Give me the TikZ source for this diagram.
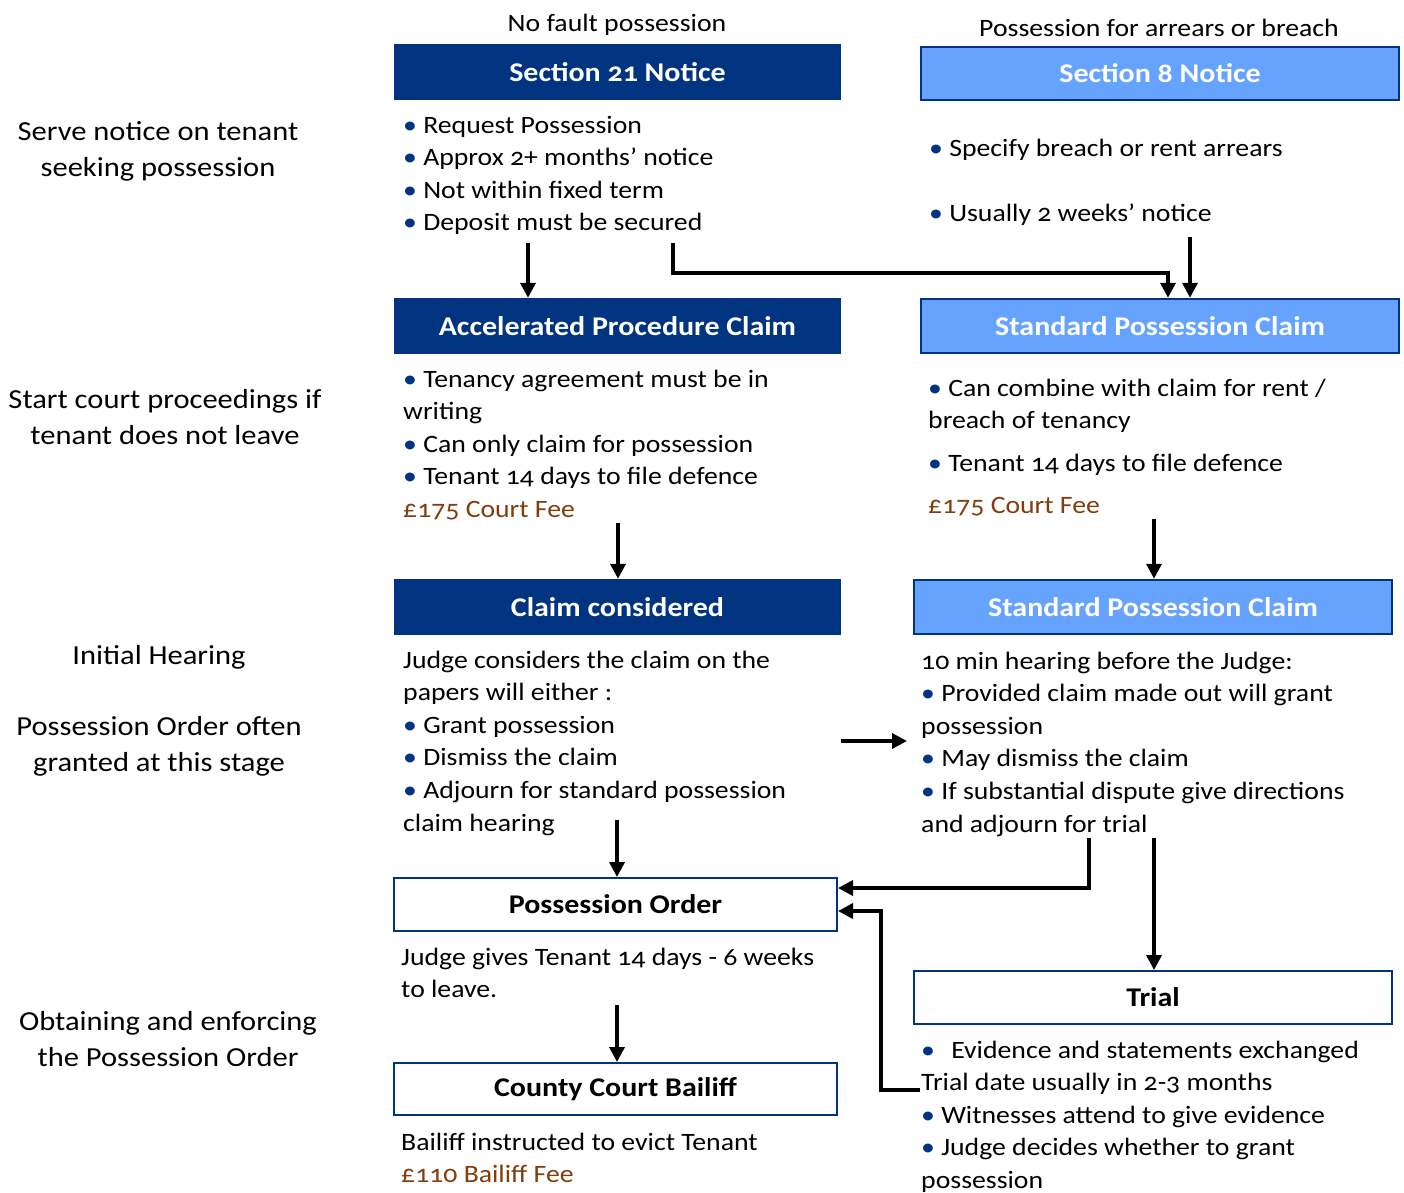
\documentclass[tikz,border=0pt]{standalone}
\usepackage{fontspec}
\setmainfont{Carlito}[Numbers=OldStyle, FakeStretch=1.11]
\usetikzlibrary{arrows.meta}
\definecolor{dblue}{RGB}{0,51,128}
\definecolor{lblue}{RGB}{102,163,255}
\definecolor{feec}{RGB}{132,60,12}
\newcommand{\bl}{\textcolor{dblue}{•}\hspace{0.25em}}
\newcommand{\fee}[1]{\textcolor{feec}{#1}}
\newcommand{\blk}[1]{\begin{tabular}[t]{@{}l@{}}#1\end{tabular}}
\newcommand{\cblk}[1]{\begin{tabular}[t]{@{}c@{}}#1\end{tabular}}
\begin{document}
\begin{tikzpicture}[x=1pt,y=-1pt,
  darkbox/.style={rectangle, fill=dblue, text=white, inner sep=0pt,
    font=\bfseries\fontsize{27}{30}\selectfont},
  lightbox/.style={rectangle, fill=lblue, draw=dblue, line width=2.5pt, text=white, inner sep=0pt,
    font=\bfseries\fontsize{27}{30}\selectfont},
  whitebox/.style={rectangle, fill=white, draw=dblue, line width=2pt, text=black, inner sep=0pt,
    font=\bfseries\fontsize{27}{30}\selectfont},
  txt/.style={anchor=base west, inner sep=0pt, font=\fontsize{25}{32.6}\selectfont},
  lbl/.style={anchor=base, inner sep=0pt, font=\fontsize{27.5}{36}\selectfont},
  hdr/.style={anchor=base, inner sep=0pt, font=\fontsize{25}{30}\selectfont},
  arr/.style={line width=3.5pt, line join=miter, -{Triangle[width=15pt,length=15pt]}}
]
\useasboundingbox[fill=white] (0,0) rectangle (1404,1192);

% left labels
\node[lbl] (l1) at (158,140) {\cblk{Serve notice on tenant\\seeking possession}};
\node[lbl] (l2) at (165,408) {\cblk{Start court proceedings if\\tenant does not leave}};
\node[lbl] (l3) at (159,664) {Initial Hearing};
\node[lbl] (l4) at (159,735) {\cblk{Possession Order often\\granted at this stage}};
\node[lbl] (l5) at (168,1030) {\cblk{Obtaining and enforcing\\the Possession Order}};

% column headers
\node[hdr] (h1) at (617,31) {No fault possession};
\node[hdr] (h2) at (1159,36) {Possession for arrears or breach};

% boxes
\node[darkbox, minimum width=447pt, minimum height=56pt] (s21) at (617.5,72) {Section 21 Notice};
\node[lightbox, minimum width=478pt, minimum height=53pt] (s8) at (1160,73.5) {Section 8 Notice};
\node[darkbox, minimum width=447pt, minimum height=56pt] (apc) at (617.5,326) {Accelerated Procedure Claim};
\node[lightbox, minimum width=478pt, minimum height=54pt] (spc1) at (1160,326) {Standard Possession Claim};
\node[darkbox, minimum width=447pt, minimum height=56pt] (cc) at (617.5,607) {Claim considered};
\node[lightbox, minimum width=478pt, minimum height=54pt] (spc2) at (1153,607) {Standard Possession Claim};
\node[whitebox, minimum width=443pt, minimum height=53pt] (po) at (615.5,904.5) {Possession Order};
\node[whitebox, minimum width=478pt, minimum height=53pt] (trial) at (1153,997.5) {Trial};
\node[whitebox, minimum width=443pt, minimum height=52pt] (ccb) at (615.5,1089) {County Court Bailiff};

% text blocks
\node[txt] (t21) at (403,133) {\blk{\bl Request Possession\\ \bl Approx 2+ months’ notice\\ \bl Not within fixed term\\ \bl Deposit must be secured}};
\node[txt] (t8) at (929,156) {\blk{\bl Specify breach or rent arrears\\[32.4pt] \bl Usually 2 weeks’ notice}};
\node[txt] (tapc) at (403,387) {\blk{\bl Tenancy agreement must be in\\ writing\\ \bl Can only claim for possession\\ \bl Tenant 14 days to file defence\\ \fee{£175 Court Fee}}};
\node[txt] (tspc1) at (928,396) {\blk{\bl Can combine with claim for rent /\\ breach of tenancy\\[10pt] \bl Tenant 14 days to file defence\\[9.5pt] \fee{£175 Court Fee}}};
\node[txt] (tcc) at (403,668) {\blk{Judge considers the claim on the\\ papers will either :\\ \bl Grant possession\\ \bl Dismiss the claim\\ \bl Adjourn for standard possession\\ claim hearing}};
\node[txt] (tspc2) at (921,669) {\blk{10 min hearing before the Judge:\\ \bl Provided claim made out will grant\\ possession\\ \bl May dismiss the claim\\ \bl If substantial dispute give directions\\ and adjourn for trial}};
\node[txt] (tpo) at (401,965) {\blk{Judge gives Tenant 14 days - 6 weeks\\ to leave.}};
\node[txt] (ttr) at (921,1058) {\blk{\bl\hspace{0.4em}Evidence and statements exchanged\\ Trial date usually in 2-3 months\\ \bl Witnesses attend to give evidence\\ \bl Judge decides whether to grant\\ possession}};
\node[txt] (tccb) at (401,1150) {\blk{Bailiff instructed to evict Tenant\\ \fee{£110 Bailiff Fee}}};

% arrow coordinates
\coordinate (a1) at (528,243);
\coordinate (a2) at (673,243);
\coordinate (b2) at (1168,273);
\coordinate (a3) at (1190,237);
\coordinate (a4) at (618,523);
\coordinate (a5) at (1154,519);
\coordinate (a6) at (841,741);
\coordinate (a6e) at (907,741);
\coordinate (a7) at (617,820);
\coordinate (a8) at (1089,838);
\coordinate (b8) at (1089,888);
\coordinate (a9) at (1154,838);
\coordinate (a10) at (920,1090);
\coordinate (b10) at (881,911);
\coordinate (a11) at (617,1005);

% connectors
\draw[arr] (a1) -- (a1 |- apc.north);
\draw[arr] (a2) |- (b2) -- (b2 |- spc1.north);
\draw[arr] (a3) -- (a3 |- spc1.north);
\draw[arr] (a4) -- (a4 |- cc.north);
\draw[arr] (a5) -- (a5 |- spc2.north);
\draw[arr] (a6) -- (a6e);
\draw[arr] (a7) -- (a7 |- po.north);
\draw[arr] (a8) -- (b8) -- (b8 -| po.east);
\draw[arr] (a9) -- (a9 |- trial.north);
\draw[arr] (a10) -| (b10) -- (b10 -| po.east);
\draw[arr] (a11) -- (a11 |- ccb.north);
\end{tikzpicture}
\end{document}
